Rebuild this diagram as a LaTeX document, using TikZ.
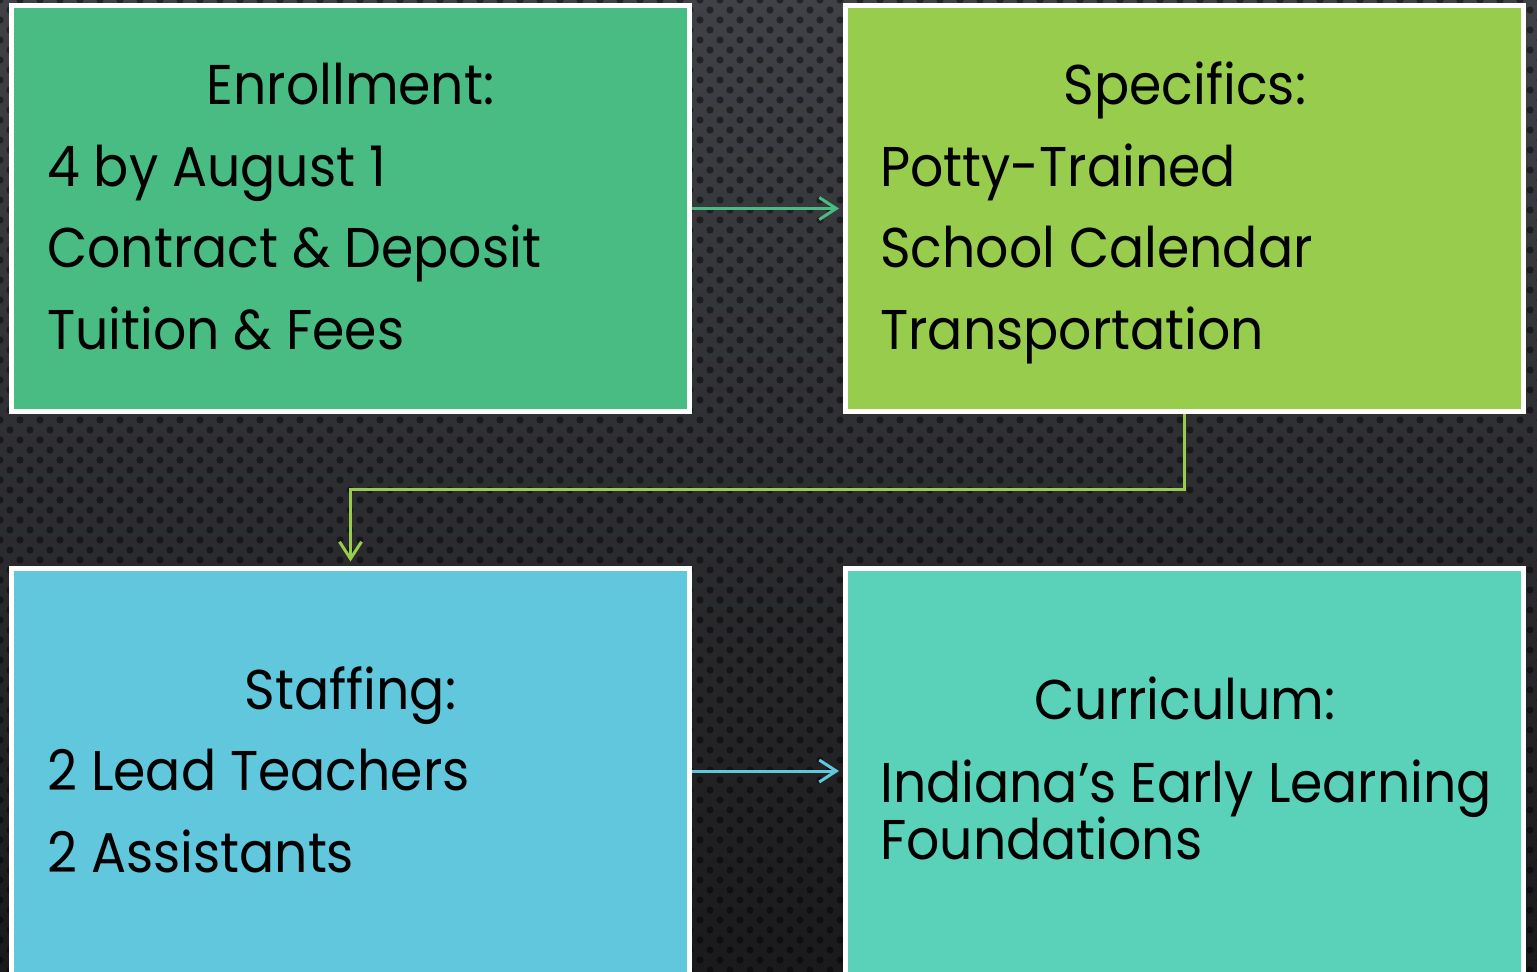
\documentclass[tikz,border=0pt]{standalone}
\usepackage{fontspec}
\setmainfont{Poppins}[FakeStretch=0.93]
\usetikzlibrary{arrows.meta}
\definecolor{bgtop}{HTML}{404146}
\definecolor{bgbot}{HTML}{1A1A1C}
\definecolor{cA}{HTML}{48BC82}
\definecolor{cB}{HTML}{98CC4D}
\definecolor{cC}{HTML}{60C7DD}
\definecolor{cD}{HTML}{5AD1B9}
\tikzset{
  box/.style={draw=white, line width=5bp, minimum width=678bp, minimum height=406bp, inner sep=0pt, outer sep=2.5bp},
  txt/.style={inner sep=0pt, font=\fontsize{56bp}{60bp}\selectfont, text=black},
  conn/.style={line width=3bp, -{Straight Barb[length=17bp,width=22bp,line width=3bp]}, shorten >=4bp},
  dots/.style={fill=black, opacity=0.45}
}
\begin{document}
\begin{tikzpicture}[x=1bp,y=-1bp]
\useasboundingbox (0,0) rectangle (1537,971);
\shade[top color=bgtop, bottom color=bgbot] (0,0) rectangle (1537,971);
\foreach \j in {0,...,98} {
  \fill[dots] \foreach \i in {0,...,77} {
      ({20*\i+10*mod(\j,2)},{10*\j}) circle (3.6)
    };
}
\node[box, fill=cA] (b1) at (350.5,208.5) {};
\node[box, fill=cB] (b2) at (1184.5,208.5) {};
\node[box, fill=cC] (b3) at (350.5,771) {};
\node[box, fill=cD] (b4) at (1184.5,771) {};
% texts
\node[txt, anchor=base] (e0) at (350.5,104) {Enrollment:};
\node[txt, anchor=base west] (e1) at (47,186) {4 by August 1};
\node[txt, anchor=base west] (e2) at (47,267) {Contract \& Deposit};
\node[txt, anchor=base west] (e3) at (47,349) {Tuition \& Fees};
\node[txt, anchor=base] (s0) at (1185,104) {Specifics:};
\node[txt, anchor=base west] (s1) at (880,186) {Potty-Trained};
\node[txt, anchor=base west] (s2) at (880,267) {School Calendar};
\node[txt, anchor=base west] (s3) at (880,349) {Transportation};
\node[txt, anchor=base] (f0) at (350.5,709) {Staffing:};
\node[txt, anchor=base west] (f1) at (47,790) {2 Lead Teachers};
\node[txt, anchor=base west] (f2) at (47,872) {2 Assistants};
\node[txt, anchor=base] (c0) at (1185,719) {Curriculum:};
\node[txt, anchor=base west] (c1) at (880,802) {Indiana’s Early Learning};
\node[txt, anchor=base west] (c2) at (880,859) {Foundations};
% connectors
\draw[conn, cA] (b1.east) -- (b2.west);
\draw[conn, cB] (b2.south) -- ++(0,75) -| (b3.north);
\draw[conn, cC] (b3.east) -- (b4.west);
\end{tikzpicture}
\end{document}
